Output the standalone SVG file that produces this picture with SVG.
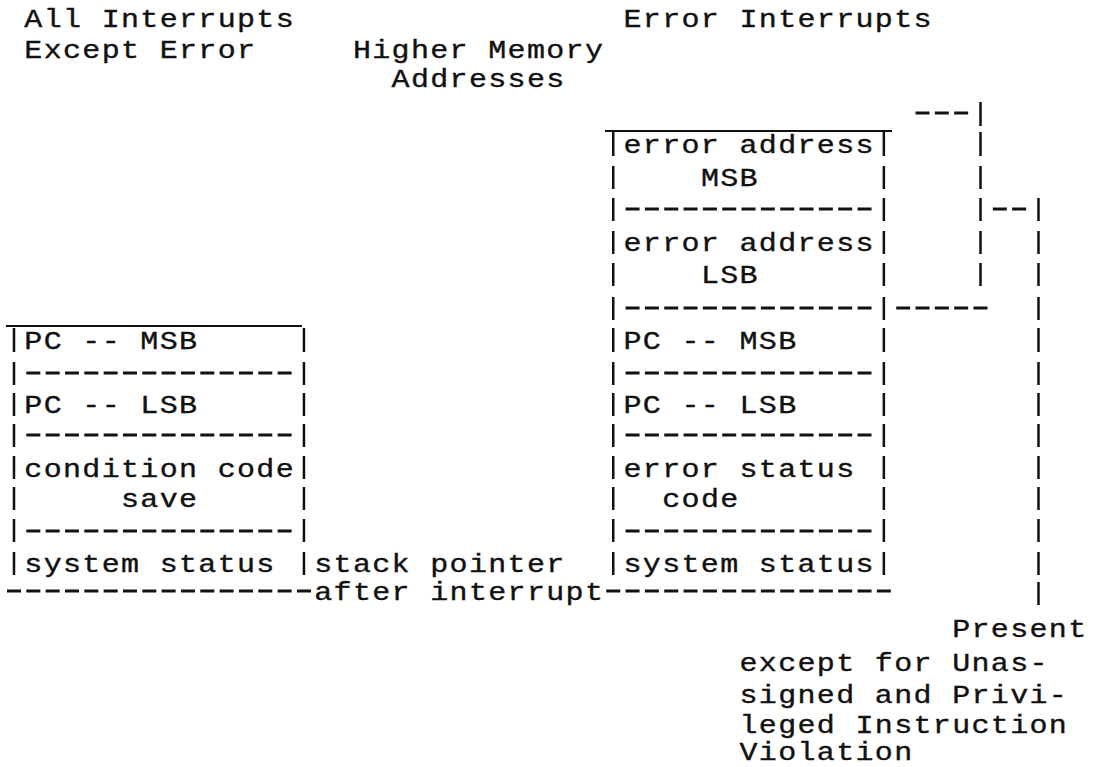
<svg xmlns="http://www.w3.org/2000/svg" width="1095" height="767" viewBox="0 0 1095 767">
  <style>
    /* typewriter look: wide monospace glyphs on a 19.33px pitch */
    .t { font-family: "Liberation Mono", "DejaVu Sans Mono", monospace; font-size: 25px; letter-spacing: 1.11px;
         fill: #111; stroke: #111; stroke-width: 0.35; transform-box: view-box; transform-origin: 0 0; transform: scale(1.2, 1); }
    .bar { fill: none; stroke: #111; stroke-width: 2.5; }
    .dash { fill: none; stroke: #111; stroke-width: 3; stroke-dasharray: 14 5.33; }
    .rule { fill: none; stroke: #111; stroke-width: 2; }
  </style>
  <rect width="1095" height="767" fill="#fff"/>

  <!-- column headings -->
  <g id="headings">
    <text class="t" x="20.28" y="27">All Interrupts</text>
    <text class="t" x="20.28" y="58">Except Error</text>
    <text class="t" x="519.63" y="27">Error Interrupts</text>
    <text class="t" x="294.12" y="58">Higher Memory</text>
    <text class="t" x="326.33" y="87">Addresses</text>
  </g>

  <!-- stack frame for ordinary interrupts -->
  <g id="stack-normal">
    <path class="rule" d="M6 326H302"/>
    <path class="bar" d="M14 328v24M14 362v23M14 393v23M14 424v23M14 456v23M14 487v23M14 519v23M14 552v23
                         M303.95 328v24M303.95 362v23M303.95 393v23M303.95 424v23M303.95 456v23M303.95 487v23M303.95 519v23M303.95 552v23"/>
    <path class="dash" d="M26.33 373H291.62M26.33 435H291.62M26.33 531H291.62"/>
    <text class="t" x="20.28" y="349">PC -- MSB</text>
    <text class="t" x="20.28" y="413">PC -- LSB</text>
    <text class="t" x="20.28" y="477">condition code</text>
    <text class="t" x="100.82" y="507">save</text>
    <text class="t" x="20.28" y="572">system status</text>
  </g>

  <!-- stack frame for error interrupts -->
  <g id="stack-error">
    <path class="rule" d="M605 131H892"/>
    <path class="bar" d="M613.23 132v24M613.23 166v23M613.23 198v23M613.23 231v23M613.23 263v23M613.23 297v23M613.23 328v24M613.23 362v23M613.23 393v23M613.23 424v23M613.23 456v23M613.23 487v23M613.23 519v23M613.23 552v23
                         M883.85 132v24M883.85 166v23M883.85 198v23M883.85 231v23M883.85 263v23M883.85 297v23M883.85 328v24M883.85 362v23M883.85 393v23M883.85 424v23M883.85 456v23M883.85 487v23M883.85 519v23M883.85 552v23"/>
    <path class="dash" d="M625.56 209H871.52M625.56 308H871.52M625.56 373H871.52M625.56 435H871.52M625.56 531H871.52"/>
    <text class="t" x="519.63" y="153">error address</text>
    <text class="t" x="584.07" y="186">MSB</text>
    <text class="t" x="519.63" y="251">error address</text>
    <text class="t" x="584.07" y="283">LSB</text>
    <text class="t" x="519.63" y="349">PC -- MSB</text>
    <text class="t" x="519.63" y="413">PC -- LSB</text>
    <text class="t" x="519.63" y="477">error status</text>
    <text class="t" x="551.85" y="507">code</text>
    <text class="t" x="519.63" y="572">system status</text>
  </g>

  <!-- stack pointer line -->
  <g id="stack-pointer">
    <text class="t" x="261.9" y="572">stack pointer</text>
    <path class="dash" d="M7 591H310.95M606.23 591H890.85"/>
    <text class="t" x="261.9" y="600">after interrupt</text>
  </g>

  <!-- note on the error address words -->
  <g id="note">
    <text class="t" x="793.48" y="637">Present</text>
    <text class="t" x="616.28" y="671">except for Unas-</text>
    <text class="t" x="616.28" y="703">signed and Privi-</text>
    <text class="t" x="616.28" y="733">leged Instruction</text>
    <text class="t" x="616.28" y="760">Violation</text>
  </g>

  <!-- brackets tying the error address words to the note -->
  <g id="connectors">
    <path class="dash" d="M915.51 113H968.17M992.83 209H1026.16M896.18 308H987.5"/>
    <path class="bar" d="M980.5 102v24M980.5 132v24M980.5 166v23M980.5 198v23M980.5 231v23M980.5 263v23
                         M1038.49 198v23M1038.49 231v23M1038.49 263v23M1038.49 297v23M1038.49 328v24M1038.49 362v23M1038.49 393v23M1038.49 424v23M1038.49 456v23M1038.49 487v23M1038.49 519v23M1038.49 552v23M1038.49 582v23"/>
  </g>
</svg>
